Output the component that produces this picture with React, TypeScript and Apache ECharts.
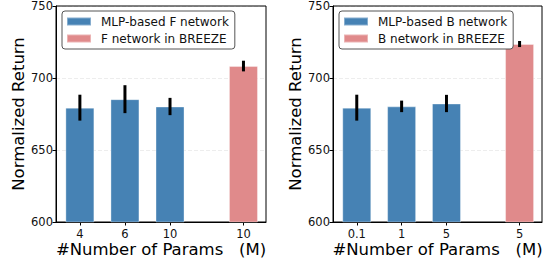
import React, { useEffect, useRef } from "react";
import * as echarts from "echarts";

const positions = [0, 1, 2, 3.63];
const leftLabels = ["4", "6", "10", "10"];
const rightLabels = ["0.1", "1", "5", "5"];

const leftMLP = [679.4, 685.3, 680.2];
const leftMLPErr = [9, 9.7, 6];
const leftBreeze = [708.3];
const leftBreezeErr = [3.7];

const rightMLP = [679.4, 680.3, 682.3];
const rightMLPErr = [9, 4, 6];
const rightBreeze = [723.6];
const rightBreezeErr = [2.1];

const yTicks = [600, 650, 700, 750];

const legendNames = {
  leftMLP: "MLP-based F network",
  leftBreeze: "F network in BREEZE",
  rightMLP: "MLP-based B network",
  rightBreeze: "B network in BREEZE",
};

const BLUE = "#4682b4";
const RED = "#e08a8b";
const FONT = "DejaVu Sans";

export default function App() {
  const ref = useRef<HTMLDivElement>(null);
  useEffect(() => {
    document.body.style.margin = "0";
    const chart = echarts.init(ref.current!, null, { renderer: "svg" });

    const xAxisBase = (labels: string[], gridIndex: number) => ({
      type: "value",
      gridIndex,
      min: -0.53,
      max: 4.13,
      name: "#Number of Params\u00a0\u00a0\u00a0(M)",
      nameLocation: "middle",
      nameGap: 19,
      nameMoveOverlap: false,
      nameTextStyle: { fontFamily: FONT, fontSize: 16.5, lineHeight: 17, color: "#000", verticalAlign: "top" },
      axisLine: { show: true, onZero: false, lineStyle: { color: "#000", width: 1 } },
      axisTick: { show: true, length: 3.5, customValues: positions, lineStyle: { color: "#000" } },
      axisLabel: {
        show: true,
        customValues: positions,
        margin: 6,
        fontFamily: FONT,
        fontSize: 11.5,
        lineHeight: 12,
        color: "#111",
        formatter: (v: number) => {
          const i = positions.findIndex((p) => Math.abs(p - v) < 1e-6);
          return i >= 0 ? labels[i] : "";
        },
      },
      splitLine: { show: false },
    });

    const yAxisBase = (gridIndex: number) => ({
      type: "value",
      gridIndex,
      min: 600,
      max: 750,
      interval: 50,
      name: "Normalized Return",
      nameLocation: "middle",
      nameGap: 29,
      nameMoveOverlap: false,
      nameTextStyle: { fontFamily: FONT, fontSize: 16.5, color: "#000" },
      axisLine: { show: true, onZero: false, lineStyle: { color: "#000", width: 1 } },
      axisTick: { show: true, length: 3.5, lineStyle: { color: "#000" } },
      axisLabel: {
        margin: 3,
        fontFamily: FONT,
        fontSize: 11.5,
        color: "#111",
        formatter: (v: number) => (yTicks.includes(v) ? String(v) : ""),
      },
      splitLine: { show: true, lineStyle: { color: "rgba(0,0,0,0.07)", type: "dashed" } },
    });

    const barSeries = (name: string, xs: number[], vals: number[], color: string, idx: number) => ({
      type: "bar",
      name,
      xAxisIndex: idx,
      yAxisIndex: idx,
      barWidth: 29,
      barGap: "-100%",
      clip: true,
      itemStyle: { color, borderColor: "rgba(255,255,255,0.35)", borderWidth: 1 },
      data: vals.map((v, i) => [xs[i], v]),
    });

    const errSeries = (xs: number[], vals: number[], errs: number[], idx: number) => ({
      type: "custom",
      xAxisIndex: idx,
      yAxisIndex: idx,
      z: 5,
      silent: true,
      data: vals.map((v, i) => [xs[i], v - errs[i], v + errs[i]]),
      renderItem: (_p: any, api: any) => {
        const a = api.coord([api.value(0), api.value(1)]);
        const b = api.coord([api.value(0), api.value(2)]);
        return {
          type: "line",
          shape: { x1: a[0], y1: a[1], x2: b[0], y2: b[1] },
          style: { stroke: "#000", lineWidth: 3 },
        };
      },
    });

    const legendBase = (left: number, data: string[]) => ({
      left,
      top: 11,
      orient: "vertical",
      data: data.map((n) => ({ name: n, icon: "rect" })),
      itemWidth: 24,
      itemHeight: 8,
      itemGap: 4,
      padding: [4, 6, 4, 4],
      borderColor: "#555",
      borderWidth: 1,
      borderRadius: 3,
      backgroundColor: "#fff",
      selectedMode: false,
      textStyle: { fontFamily: FONT, fontSize: 12, lineHeight: 13, color: "#111", padding: [0, 0, 0, 5] },
    });

    const gridBase = (left: number, width: number) => ({
      left,
      top: 6,
      width,
      height: 216,
      show: true,
      borderColor: "#000",
      borderWidth: 1,
      backgroundColor: "transparent",
      containLabel: false,
      outerBoundsMode: "none",
    });

    chart.setOption({
      animation: false,
      textStyle: { fontFamily: FONT },
      grid: [gridBase(56, 210), gridBase(333, 209)],
      xAxis: [xAxisBase(leftLabels, 0), xAxisBase(rightLabels, 1)],
      yAxis: [yAxisBase(0), yAxisBase(1)],
      legend: [
        legendBase(62, [legendNames.leftMLP, legendNames.leftBreeze]),
        legendBase(339, [legendNames.rightMLP, legendNames.rightBreeze]),
      ],
      series: [
        barSeries(legendNames.leftMLP, positions.slice(0, 3), leftMLP, BLUE, 0),
        barSeries(legendNames.leftBreeze, positions.slice(3), leftBreeze, RED, 0),
        errSeries(positions.slice(0, 3), leftMLP, leftMLPErr, 0),
        errSeries(positions.slice(3), leftBreeze, leftBreezeErr, 0),
        barSeries(legendNames.rightMLP, positions.slice(0, 3), rightMLP, BLUE, 1),
        barSeries(legendNames.rightBreeze, positions.slice(3), rightBreeze, RED, 1),
        errSeries(positions.slice(0, 3), rightMLP, rightMLPErr, 1),
        errSeries(positions.slice(3), rightBreeze, rightBreezeErr, 1),
      ],
    });
    return () => chart.dispose();
  }, []);
  return <div ref={ref} style={{ width: 550, height: 258 }} />;
}
